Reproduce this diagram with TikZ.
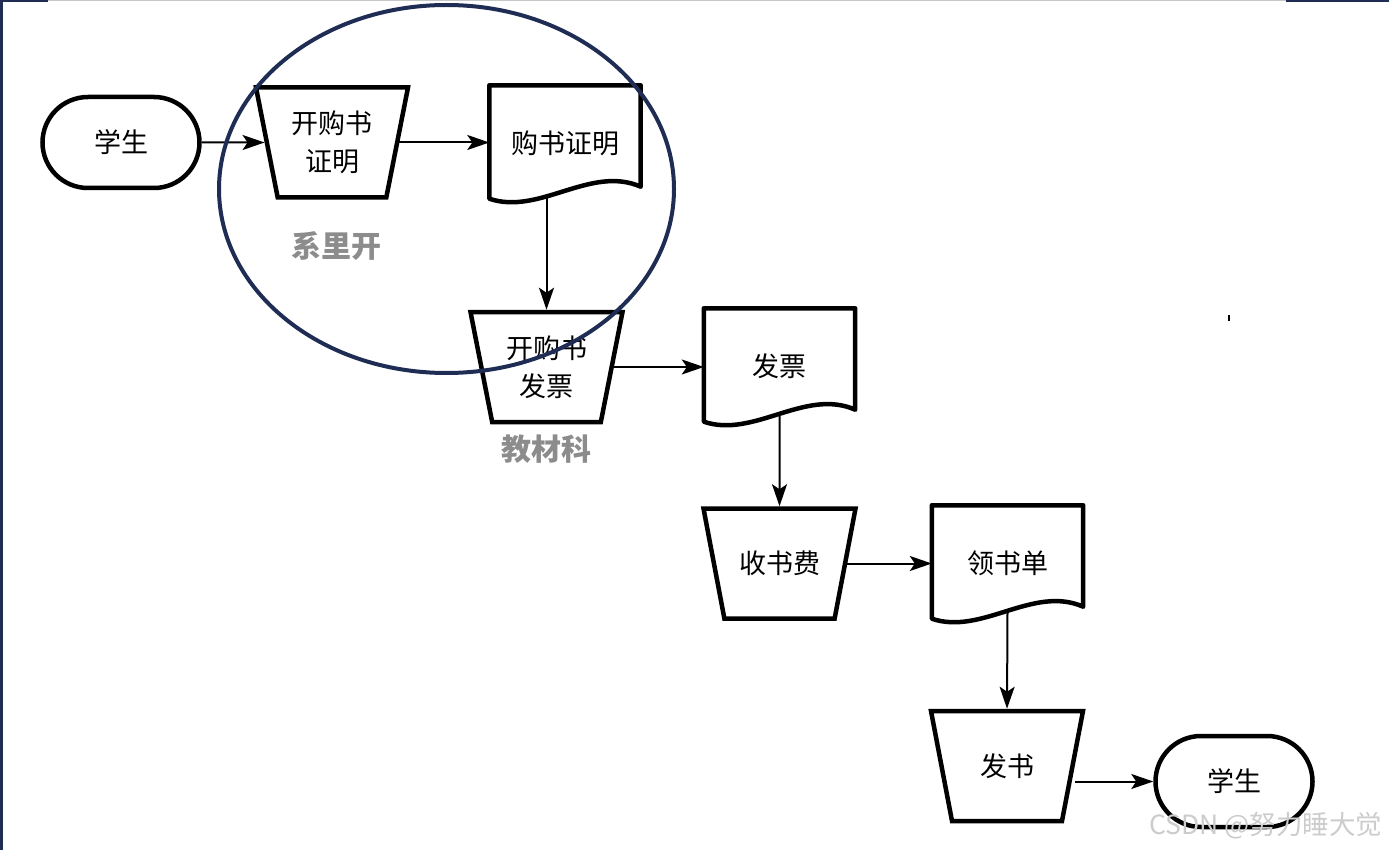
\documentclass[tikz,border=0pt]{standalone}
\usepackage{fontspec}
\newfontfamily\cjk{Noto Sans CJK SC}
\usepackage{tikz}
\usetikzlibrary{positioning,arrows.meta,calc,shapes.geometric,shapes.misc}
\definecolor{navy}{RGB}{31,45,84}
\definecolor{lbgray}{RGB}{140,140,140}

\begin{document}
\begin{tikzpicture}[x=1pt,y=-1pt,
  txt/.style={font=\cjk\fontsize{27}{38}\selectfont,align=center},
  term/.style={txt,draw,line width=4.5pt,rounded rectangle,minimum width=157pt,minimum height=91pt,inner sep=0pt},
  proc/.style={txt,draw,line width=4.5pt,trapezium,shape border rotate=180,trapezium left angle=#1,trapezium right angle=#1,trapezium stretches body,minimum width=152pt,minimum height=110pt,inner sep=0pt},
  proc/.default=71,
  doc/.style={txt,minimum width=151pt,minimum height=115pt,inner sep=0pt},
  shp/.style={line width=4.5pt,line join=round},
  flow/.style={line width=2pt,-{Stealth[length=22pt,width=15pt,inset=5pt]}},
  lb/.style={font=\cjk\bfseries\fontsize{30}{34}\selectfont,text=lbgray}]
\useasboundingbox (0,0) rectangle (1389,850);
% frame
\fill[navy] (0,0) rectangle (3,850);
\fill[navy] (0,0) rectangle (48,2);
\fill[gray!45] (48,0) rectangle (1286,1.5);
\fill[navy] (1286,0) rectangle (1389,2);

\node[term] (s1) at (121,142.5) {学生};
\node[proc] (k1) at (332,142.5) {开购书\\证明};
\node[doc] (d1) at (565,143) {购书证明};
\node[proc] (k2) at (546.5,367) {开购书\\发票};
\node[doc] (d2) at (779.5,366) {发票};
\node[proc=50] (k3) at (779.5,563.5) {收书费};
\node[doc] (d3) at (1007.5,563) {领书单};
\node[proc=50] (k4) at (1007,766) {发书};
\node[term] (s2) at (1234,781.5) {学生};

\node[lb] (l1) at (336,246) {系里开};
\node[lb] (l2) at (546,449) {教材科};

\foreach \d in {d1,d2,d3}
  \draw[shp] (\d.north west) -- (\d.north east) -- ([yshift=14pt]\d.south east)
    .. controls +(-50pt,22pt) and +(50pt,-17pt) .. ([yshift=2pt]\d.south west) -- cycle;

\draw[flow] (s1) -- (k1);
\draw[flow] (k1.east) -- (k1.east -| d1.west);
\draw[flow] ([yshift=3pt]k2.north |- d1.south) -- (k2.north);
\draw[flow] (k2.east) -- (k2.east -| d2.west);
\draw[flow] ([yshift=9pt]d2.south) -- (k3.north);
\draw[flow] (k3.east) -- (k3.east -| d3.west);
\draw[flow] ([yshift=9pt]d3.south) -- (k4.north);
\draw[flow] (k4.east |- s2.west) -- (s2.west);

\fill (1228,315) rectangle (1230,321);
\draw[navy,line width=4pt] (446.5,189) ellipse [x radius=227.5,y radius=184];

\node[font=\cjk\fontsize{26.5}{30}\selectfont,text=gray!40,anchor=east] (wm) at (1386,826) {CSDN @努力睡大觉};
\end{tikzpicture}
\end{document}
